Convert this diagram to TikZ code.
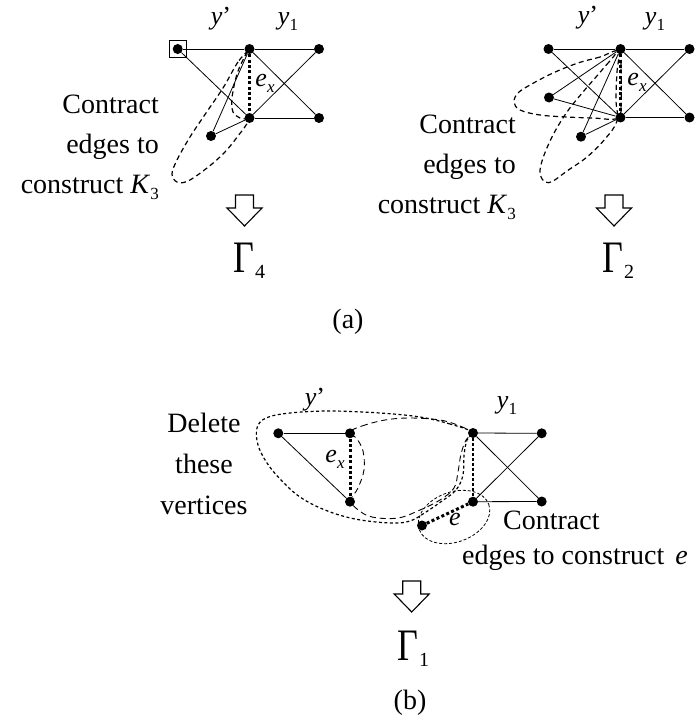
\documentclass[tikz,border=0pt]{standalone}
\usepackage{fontspec}
\setmainfont{Liberation Serif}
\usepackage{graphicx}
\usetikzlibrary{positioning}
\newcommand{\lsub}[1]{\raisebox{-6pt}{\fontsize{17}{17}\selectfont #1}}
\newcommand{\Gam}[1]{\scalebox{1}[1.25]{\fontsize{36}{36}\selectfont Γ}\kern1pt\raisebox{-6pt}{\fontsize{20}{20}\selectfont #1}}

\begin{document}
\begin{tikzpicture}[
  x=1pt, y=-1pt,
  font=\fontsize{28}{40}\selectfont,
  vtx/.style={circle, fill=black, inner sep=0pt, minimum size=10pt},
  edge/.style={line width=0.8pt},
  cedge/.style={line width=3pt, dash pattern=on 3pt off 2.4pt},
  hull/.style={line width=1.2pt, dash pattern=on 5pt off 3.5pt},
  shull/.style={line width=1.2pt, dash pattern=on 3pt off 2.5pt},
  lhull/.style={line width=0.9pt, dash pattern=on 6pt off 4pt},
  thull/.style={line width=0.8pt, dash pattern=on 3pt off 2pt},
  lab/.style={inner sep=0pt, font=\fontsize{26}{26}\selectfont},
  note/.style={inner sep=0pt},
  blockdown/.pic={\draw[line width=1.1pt] (-9,0) -- (9,0) -- (9,13) -- (17.5,13) -- (0,31) -- (-17.5,13) -- (-9,13) -- cycle;},
]
\useasboundingbox (0,0) rectangle (696,728);

% (a), left: Gamma_4
\draw[hull] plot[smooth cycle, tension=0.6] coordinates {(249,50) (238,62) (223,88) (206,113) (190,137) (177,160) (172,174) (177,182) (188,181) (207,168) (224,153) (238,136) (248,121) (240,118) (233,112) (232,98) (237,74) (245,56)};
\node[vtx] (p1) at (177.7,49) {};
\node[vtx] (p2) at (249.5,49) {};
\node[vtx] (p3) at (319,49) {};
\node[vtx] (p4) at (249.5,118) {};
\node[vtx] (p5) at (319,118) {};
\node[vtx] (p6) at (211,136) {};
\node[draw, line width=1pt, minimum size=17pt, inner sep=0pt] (p1box) at (p1) {};
\foreach \u/\v in {p1/p2, p2/p3, p1/p4, p2/p5, p3/p4, p4/p5, p6/p2, p6/p4} \draw[edge] (\u) -- (\v);
\draw[cedge] (p2) -- (p4);
\node[lab] (yp1) at (221,19) {\textit{y}’};
\node[lab] (yo1) at (288,22) {\textit{y}\lsub{1}};
\node[lab] (ex1) at (265,83) {\textit{e}\lsub{\textit{x}}};
\node[note, align=right, anchor=north east] (ctrL) at (159,95) {Contract\\edges to\\construct \textit{K}\lsub{3}};
\pic (arrL) at (244.5,195) {blockdown};
\node[note, anchor=base west] (gam4) at (233,272) {\Gam{4}};

% (a), right: Gamma_2
\draw[hull] plot[smooth cycle, tension=0.6] coordinates {(619,51) (600,57) (578,63) (553,73) (530,85) (518,93) (514,102) (520,110) (540,115) (567,117) (593,118) (618,118) (621,100) (621,70)};
\draw[hull] plot[smooth cycle, tension=0.6] coordinates {(619,52) (609,62) (596,77) (583,92) (567,112) (553,135) (543,158) (540,173) (545,182) (553,181) (567,171) (587,157) (605,139) (617,121) (616,100) (617,72)};
\node[vtx] (q1) at (548.5,49) {};
\node[vtx] (q2) at (620.5,49) {};
\node[vtx] (q3) at (689.5,49) {};
\node[vtx] (q4) at (549,97.5) {};
\node[vtx] (q5) at (620.5,117.5) {};
\node[vtx] (q6) at (689.5,117.5) {};
\node[vtx] (q7) at (581,136.7) {};
\foreach \u/\v in {q1/q2, q2/q3, q1/q5, q2/q6, q3/q5, q5/q6, q4/q2, q4/q5, q7/q2, q7/q5} \draw[edge] (\u) -- (\v);
\draw[cedge] (q2) -- (q5);
\node[lab] (yp2) at (588,18) {\textit{y}’};
\node[lab] (yo2) at (655,22) {\textit{y}\lsub{1}};
\node[lab] (ex2) at (637,82) {\textit{e}\lsub{\textit{x}}};
\node[note, align=right, anchor=north east] (ctrR) at (516,115) {Contract\\edges to\\construct \textit{K}\lsub{3}};
\pic (arrR) at (614,195) {blockdown};
\node[note, anchor=base west] (gam2) at (602,272) {\Gam{2}};

\node (capa) at (348,322) {(a)};

% (b): Gamma_1
\draw[shull] plot[smooth cycle, tension=0.6] coordinates {(472,432) (450,424) (420,417) (380,413) (330,411) (290,413) (266,418) (257,428) (258,445) (267,463) (281,480) (300,497) (325,510) (355,519) (390,523) (410,521) (426,512) (442,501) (456,490) (463,475) (464,455) (467,440)};
\draw[lhull] plot[smooth cycle, tension=0.6] coordinates {(350,432) (362,426) (385,420) (410,418) (440,420) (460,426) (472,433) (466,440) (461,454) (458,472) (454,488) (440,500) (420,510) (398,518) (372,517) (357,509) (351,500) (358,488) (364,470) (363,451) (357,439)};
\draw[thull] (454,517) ellipse [x radius=37, y radius=25, rotate=20];
\node[vtx] (r1) at (278.3,433.3) {};
\node[vtx] (r2) at (350,433.3) {};
\node[vtx] (r3) at (350,501.7) {};
\node[vtx] (r4) at (473,433) {};
\node[vtx] (r5) at (473,501.7) {};
\node[vtx] (r6) at (541.7,433.3) {};
\node[vtx] (r7) at (541.7,501.5) {};
\node[vtx] (r8) at (422,525.5) {};
\foreach \u/\v in {r1/r2, r1/r3, r4/r6, r4/r7, r6/r5, r5/r7} \draw[edge] (\u) -- (\v);
\draw[cedge] (r2) -- (r3);
\draw[cedge] (r8) -- (r5);
\draw[line width=1.8pt, dash pattern=on 3pt off 2pt] (r4) -- (r5);
\node[lab] (yp3) at (315,400) {\textit{y}’};
\node[lab] (yo3) at (507,406) {\textit{y}\lsub{1}};
\node[lab] (ex3) at (335,459) {\textit{e}\lsub{\textit{x}}};
\node[lab] (e3) at (455,519) {\textit{e}};
\node[note, align=center, anchor=north] (del) at (204,413) {Delete\\[1pt]these\\[1pt]vertices};
\node[note, align=left, anchor=north west] (ctrB) at (462,511) {\hspace*{41pt}Contract\\[-5pt]edges to construct\hspace{11pt}\textit{e}};
\pic (arrB) at (411.7,581) {blockdown};
\node[note, anchor=base west] (gam1) at (397,660) {\Gam{1}};

\node (capb) at (410,703) {(b)};
\end{tikzpicture}
\end{document}
